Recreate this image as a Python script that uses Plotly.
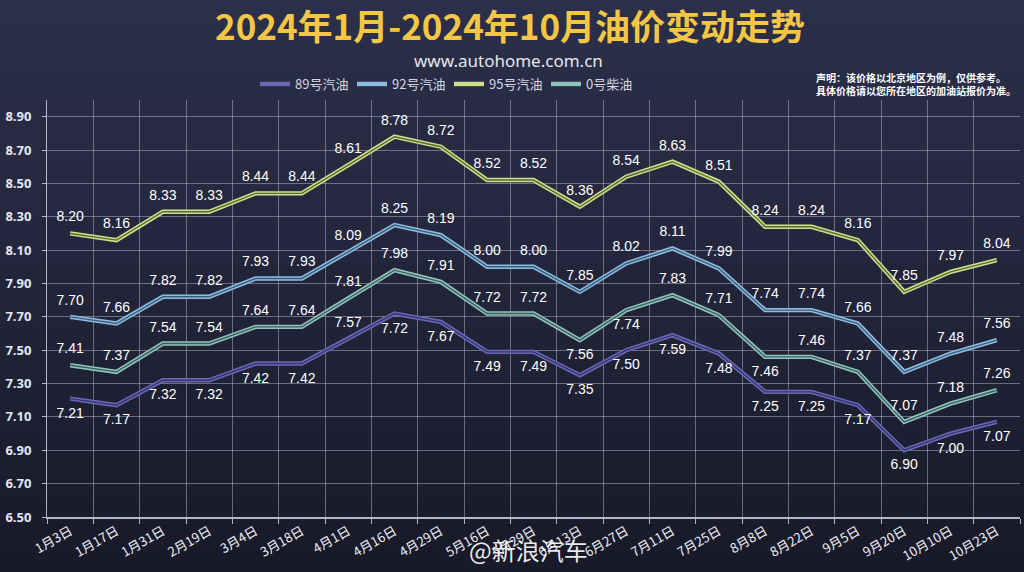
import plotly.graph_objects as go

# ---------------- data ----------------
dates = ["1月3日", "1月17日", "1月31日", "2月19日", "3月4日", "3月18日", "4月1日",
         "4月16日", "4月29日", "5月16日", "5月29日", "6月13日", "6月27日", "7月11日",
         "7月25日", "8月8日", "8月22日", "9月5日", "9月20日", "10月10日", "10月23日"]

gas89 = [7.21, 7.17, 7.32, 7.32, 7.42, 7.42, 7.57, 7.72, 7.67, 7.49, 7.49,
         7.35, 7.50, 7.59, 7.48, 7.25, 7.25, 7.17, 6.90, 7.00, 7.07]
gas92 = [7.70, 7.66, 7.82, 7.82, 7.93, 7.93, 8.09, 8.25, 8.19, 8.00, 8.00,
         7.85, 8.02, 8.11, 7.99, 7.74, 7.74, 7.66, 7.37, 7.48, 7.56]
gas95 = [8.20, 8.16, 8.33, 8.33, 8.44, 8.44, 8.61, 8.78, 8.72, 8.52, 8.52,
         8.36, 8.54, 8.63, 8.51, 8.24, 8.24, 8.16, 7.85, 7.97, 8.04]
diesel0 = [7.41, 7.37, 7.54, 7.54, 7.64, 7.64, 7.81, 7.98, 7.91, 7.72, 7.72,
           7.56, 7.74, 7.83, 7.71, 7.46, 7.46, 7.37, 7.07, 7.18, 7.26]

series_names = ["89号汽油", "92号汽油", "95号汽油", "0号柴油"]
y_ticks = [6.5, 6.7, 6.9, 7.1, 7.3, 7.5, 7.7, 7.9, 8.1, 8.3, 8.5, 8.7, 8.9]

title_text = "2024年1月-2024年10月油价变动走势"
subtitle_text = "www.autohome.com.cn"
note_text = "<b>声明：该价格以北京地区为例，仅供参考。<br>具体价格请以您所在地区的加油站报价为准。</b>"
watermark_text = "@新浪汽车"

# ---------------- styles ----------------
n = len(dates)
pos89 = ["bottom center"] * n
pos89[6] = "top center"
pos0 = ["top center"] * n
for k in (11, 12, 15):
    pos0[k] = "bottom center"
posTop = ["top center"] * n

styles = [
    (gas89, series_names[0], "#6a69b6", "#34346e", pos89),
    (gas92, series_names[1], "#8fbde0", "#3c5c7c", posTop),
    (gas95, series_names[2], "#d2df8a", "#5b6634", posTop),
    (diesel0, series_names[3], "#92c4be", "#3b5c5c", pos0),
]

fig = go.Figure()

W, H = 1024, 572
ml, mr, mt, mb = 47, 4, 100, 55
pw, ph = W - ml - mr, H - mt - mb

# background gradient via bands (paper coordinates extended to full page)
top_c = (44, 47, 73)
bot_c = (24, 26, 42)
nb = 24
shapes = []
for b in range(nb):
    t = b / (nb - 1)
    c = tuple(int(round(top_c[j] + (bot_c[j] - top_c[j]) * t)) for j in range(3))
    y0px = H * b / nb
    y1px = H * (b + 1) / nb + 1
    shapes.append(dict(
        type="rect", xref="paper", yref="paper", layer="below",
        x0=-ml / pw, x1=1 + mr / pw,
        y0=1 + (mt - y1px) / ph, y1=1 + (mt - y0px) / ph,
        fillcolor="rgb(%d,%d,%d)" % c, line=dict(width=0)))

for vals, name, outer, inner, tpos in styles:
    fig.add_trace(go.Scatter(
        x=dates, y=vals, name=name, mode="lines",
        line=dict(color=outer, width=4.4), hoverinfo="skip"))
    fig.add_trace(go.Scatter(
        x=dates, y=vals, mode="lines", showlegend=False,
        line=dict(color=inner, width=1.4), hoverinfo="skip"))
    fig.add_trace(go.Scatter(
        x=dates, y=vals, mode="markers+text", showlegend=False,
        marker=dict(size=12, opacity=0),
        text=["%.2f" % v for v in vals], textposition=tpos,
        textfont=dict(family="Liberation Sans", size=14, color="#ffffff"),
        hoverinfo="skip"))

annotations = [
    dict(text="<b>%s</b>" % title_text, xref="paper", yref="paper",
         x=(510 - ml) / pw, y=1 + (mt - 24) / ph, xanchor="center", yanchor="middle",
         showarrow=False,
         font=dict(family="Noto Sans CJK SC", size=35, color="#f4c646")),
    dict(text=subtitle_text, xref="paper", yref="paper",
         x=(508 - ml) / pw, y=1 + (mt - 61) / ph, xanchor="center", yanchor="middle",
         showarrow=False,
         font=dict(family="Noto Sans", size=17, color="#e6e6ee")),
    dict(text=note_text, xref="paper", yref="paper",
         x=(1018 - ml) / pw, y=1 + (mt - 84) / ph, xanchor="right", yanchor="middle",
         align="left", showarrow=False,
         font=dict(family="Noto Sans CJK SC", size=10, color="#ffffff")),
    dict(text=watermark_text, xref="paper", yref="paper",
         x=(528 - ml) / pw, y=-(549 - (H - mb)) / ph, xanchor="center", yanchor="middle",
         showarrow=False,
         font=dict(family="Noto Sans CJK SC", size=24, color="rgba(255,255,255,0.92)")),
]

fig.update_layout(
    width=W, height=H,
    margin=dict(l=ml, r=mr, t=mt, b=mb, pad=0),
    paper_bgcolor="rgb(34,36,56)",
    plot_bgcolor="rgba(0,0,0,0)",
    shapes=shapes,
    annotations=annotations,
    showlegend=True,
    legend=dict(orientation="h", x=(449 - ml) / pw, y=1 + (mt - 84) / ph,
                xanchor="center", yanchor="middle",
                bgcolor="rgba(0,0,0,0)", itemwidth=30,
                entrywidth=52, entrywidthmode="pixels",
                font=dict(family="Noto Sans CJK SC", size=13, color="#d6d6e2")),
    xaxis=dict(type="category", tickson="boundaries", showgrid=True,
               gridcolor="rgba(200,202,220,0.45)", gridwidth=1,
               showline=True, linecolor="rgba(220,222,235,0.8)", linewidth=1.5,
               ticks="outside", ticklen=5, tickcolor="rgba(220,222,235,0.8)",
               tickangle=-30,
               tickfont=dict(family="Noto Sans CJK SC", size=13, color="#eeeef4"),
               range=[-0.5, n - 0.5], zeroline=False),
    yaxis=dict(range=[6.5, 9.0], tickvals=y_ticks,
               ticktext=["%.2f" % v for v in y_ticks],
               showgrid=True, gridcolor="rgba(200,202,220,0.45)", gridwidth=1,
               showline=True, linecolor="rgba(220,222,235,0.8)", linewidth=1,
               ticks="outside", ticklen=4, tickcolor="rgba(220,222,235,0.8)",
               ticklabelstandoff=8,
               tickfont=dict(family="Noto Sans", size=13, color="#e6e6ee", weight="bold"),
               zeroline=False),
)

fig.write_html("out.html")
